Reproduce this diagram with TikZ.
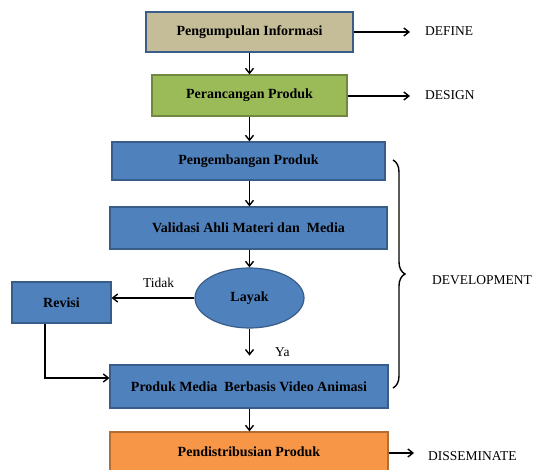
\documentclass[tikz,border=0pt]{standalone}
\usepackage{fontspec}
\setmainfont{Liberation Serif}
\usetikzlibrary{arrows.meta,shapes.geometric,decorations.pathreplacing}
\definecolor{tanf}{HTML}{C4BD97}
\definecolor{blueb}{HTML}{385D8A}
\definecolor{bluef}{HTML}{4F81BD}
\definecolor{greenf}{HTML}{9BBB59}
\definecolor{greenb}{HTML}{71893F}
\definecolor{orangef}{HTML}{F79646}
\definecolor{orangeb}{HTML}{B66D31}
\begin{document}
\begin{tikzpicture}[x=1pt,y=-1pt,
  boxs/.style={draw, line width=1.2pt, inner sep=0pt, font=\fontsize{14}{16}\selectfont\bfseries},
  arr/.style={-{Straight Barb[length=5pt,width=8pt]}, line width=1.4pt},
  lab/.style={font=\fontsize{13.5}{15}\selectfont, anchor=west, inner sep=0pt}]
\useasboundingbox (0,0) rectangle (539,470);
\node[boxs, fill=tanf, draw=blueb, minimum width=207pt, minimum height=40pt] (b1) at (249.5,32) {Pengumpulan Informasi};
\node[boxs, fill=greenf, draw=greenb, minimum width=195pt, minimum height=41pt] (b2) at (249.5,95.5) {Perancangan Produk};
\node[boxs, fill=bluef, draw=blueb, minimum width=273pt, minimum height=38pt] (b3) at (248.5,161) {Pengembangan Produk};
\node[boxs, fill=bluef, draw=blueb, minimum width=277pt, minimum height=42pt] (b4) at (248.5,228) {Validasi Ahli Materi dan\ \ Media};
\node[boxs, ellipse, fill=bluef, draw=blueb, minimum width=109pt, minimum height=60pt] (lay) at (249.5,298) {Layak};
\node[boxs, fill=bluef, draw=blueb, minimum width=99pt, minimum height=41pt] (rev) at (61.5,302.5) {Revisi};
\node[boxs, fill=bluef, draw=blueb, minimum width=278pt, minimum height=43pt] (b5) at (249,386.5) {Produk Media\ \ Berbasis Video Animasi};
\node[boxs, fill=orangef, draw=orangeb, minimum width=278pt, minimum height=40pt] (b6) at (249,452) {Pendistribusian Produk};

\coordinate (d1) at (410,32);
\coordinate (d2) at (410,96);
\coordinate (d3) at (414,453);
\node[lab] (tdef) at (425,31) {DEFINE};
\node[lab] (tdes) at (425,95) {DESIGN};
\node[lab] (tdis) at (428,456) {DISSEMINATE};
\node[lab] (tdev) at (432,280) {DEVELOPMENT};
\node[lab] (ttid) at (143,283) {Tidak};
\node[lab] (tya) at (275,352) {Ya};

\draw[arr] (b1.east) -- (d1);
\draw[arr] (b2.east |- d2) -- (d2);
\draw[arr] (b6.east |- d3) -- (d3);
\draw[arr] (b1.south) -- (b2.north);
\draw[arr] (b2.south) -- (b3.north -| b2.south);
\draw[arr] (b3.south -| b2.south) -- (b4.north -| b2.south);
\draw[arr] (b4.south -| lay.north) -- (lay.north);
\draw[arr] (lay.south) -- ++(0,27);
\draw[arr] (lay.west) -- (rev.east |- lay.west);
\draw[arr] (b5.south -| b2.south) -- (b6.north -| b2.south);
\coordinate (rc) at (45,378);
\draw[arr] (rev.south -| rc) -- (rc) -- (b5.west |- rc);
\draw[line width=1.4pt, decorate, decoration={brace, amplitude=12pt}] (393,160) -- (393,388);
\end{tikzpicture}
\end{document}
